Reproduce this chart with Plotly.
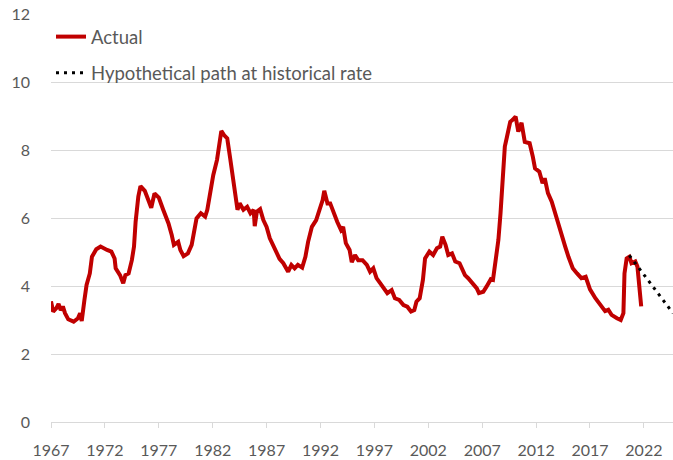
import plotly.graph_objects as go

# values (decimal years)
actual_years = [
    1967.0, 1967.2, 1967.5, 1967.7, 1967.9, 1968.1, 1968.3, 1968.6, 1969.1, 1969.5,
    1969.7, 1969.85, 1970.1, 1970.3, 1970.6, 1970.8, 1971.2, 1971.6, 1972.2, 1972.6,
    1972.9, 1973.0, 1973.4, 1973.7, 1973.9, 1974.2, 1974.5, 1974.7, 1974.85, 1974.95,
    1975.1, 1975.3, 1975.7, 1976.0, 1976.3, 1976.6, 1977.0, 1977.4, 1977.9, 1978.2,
    1978.4, 1978.8, 1979.0, 1979.3, 1979.7, 1980.05, 1980.3, 1980.5, 1980.9, 1981.3,
    1981.5, 1981.75, 1982.05, 1982.4, 1982.6, 1982.8, 1983.05, 1983.35, 1983.6, 1983.85,
    1984.1, 1984.3, 1984.5, 1984.85, 1985.2, 1985.5, 1985.8, 1985.9, 1986.1, 1986.4,
    1986.7, 1987.0, 1987.3, 1987.8, 1988.2, 1988.55, 1989.0, 1989.3, 1989.6, 1989.9,
    1990.3, 1990.6, 1990.85, 1991.2, 1991.6, 1991.95, 1992.2, 1992.35, 1992.65, 1992.9,
    1993.2, 1993.55, 1993.9, 1994.1, 1994.35, 1994.7, 1994.9, 1995.2, 1995.5, 1995.9,
    1996.3, 1996.6, 1996.9, 1997.2, 1997.5, 1997.8, 1998.2, 1998.6, 1998.9, 1999.3,
    1999.7, 2000.05, 2000.4, 2000.7, 2000.9, 2001.2, 2001.5, 2001.7, 2002.1, 2002.45,
    2002.8, 2003.1, 2003.3, 2003.6, 2003.85, 2004.2, 2004.5, 2004.9, 2005.4, 2005.7,
    2006.1, 2006.5, 2006.7, 2007.1, 2007.4, 2007.8, 2008.0, 2008.2, 2008.5, 2008.7,
    2008.9, 2009.1, 2009.3, 2009.6, 2009.8, 2010.1, 2010.35, 2010.65, 2010.95, 2011.4,
    2011.7, 2011.9, 2012.3, 2012.6, 2012.8, 2013.1, 2013.45, 2013.75, 2014.1, 2014.4,
    2014.7, 2015.0, 2015.4, 2015.8, 2016.2, 2016.6, 2017.0, 2017.5, 2017.9, 2018.4,
    2018.7, 2019.0, 2019.5, 2019.85, 2020.1, 2020.2, 2020.4, 2020.65, 2020.85, 2021.2,
    2021.4, 2021.6, 2021.75,
]
actual_vals = [
    3.55, 3.25, 3.35, 3.47, 3.29, 3.4, 3.2, 3.02, 2.95, 3.05,
    3.2, 2.97, 3.59, 4.03, 4.37, 4.86, 5.08, 5.16, 5.06, 5.01,
    4.81, 4.52, 4.32, 4.08, 4.32, 4.37, 4.76, 5.16, 5.89, 6.33,
    6.63, 6.94, 6.8, 6.55, 6.3, 6.72, 6.6, 6.25, 5.84, 5.5,
    5.21, 5.3, 5.06, 4.88, 4.96, 5.21, 5.65, 5.99, 6.14, 6.04,
    6.24, 6.73, 7.26, 7.71, 8.1, 8.56, 8.44, 8.34, 7.8, 7.21,
    6.68, 6.24, 6.43, 6.24, 6.33, 6.14, 6.24, 5.76, 6.19, 6.26,
    5.94, 5.74, 5.4, 5.1, 4.8, 4.67, 4.42, 4.62, 4.52, 4.62,
    4.54, 4.86, 5.3, 5.74, 5.94, 6.28, 6.53, 6.8, 6.43, 6.43,
    6.14, 5.89, 5.65, 5.74, 5.26, 5.06, 4.7, 4.91, 4.76, 4.76,
    4.62, 4.42, 4.52, 4.23, 4.1, 3.98, 3.79, 3.88, 3.64, 3.59,
    3.44, 3.39, 3.25, 3.29, 3.54, 3.64, 4.18, 4.81, 5.01, 4.91,
    5.11, 5.16, 5.45, 5.21, 4.91, 4.96, 4.72, 4.67, 4.32, 4.23,
    4.08, 3.93, 3.79, 3.83, 3.98, 4.2, 4.18, 4.67, 5.35, 6.14,
    7.12, 8.1, 8.39, 8.83, 8.88, 8.98, 8.54, 8.8, 8.24, 8.2,
    7.8, 7.46, 7.36, 7.02, 7.17, 6.73, 6.48, 6.14, 5.74, 5.4,
    5.16, 4.86, 4.52, 4.37, 4.23, 4.27, 3.9, 3.64, 3.49, 3.26,
    3.3, 3.15, 3.05, 3.0, 3.2, 4.37, 4.81, 4.86, 4.67, 4.72,
    4.57, 3.88, 3.4,
]

hyp_years = [2020.65, 2024.7]
hyp_vals = [4.9, 3.2]

tick_years = [1967, 1972, 1977, 1982, 1987, 1992, 1997, 2002, 2007, 2012, 2017, 2022]

RED = "#C00000"
GRID = "#D9D9D9"
TXT = "#595959"
FONT = "Lato, 'Open Sans', sans-serif"

fig = go.Figure()
fig.add_trace(go.Scatter(
    x=actual_years, y=actual_vals, mode="lines", name="Actual", legendgroup="a",
    line=dict(color=RED, width=4),
))
fig.add_trace(go.Scatter(
    x=hyp_years, y=hyp_vals, mode="lines", name="Hypothetical path at historical rate",
    legendgroup="h", line=dict(color="#000000", width=3, dash="3px,5px"),
))

fig.update_layout(
    width=673, height=460,
    paper_bgcolor="white", plot_bgcolor="white",
    margin=dict(l=51, r=0, t=14, b=38),
    font=dict(family=FONT, size=16, color=TXT),
    showlegend=True,
    legend=dict(
        x=0.0, y=0.99, xanchor="left", yanchor="top",
        bgcolor="rgba(0,0,0,0)", font=dict(size=18.5, color=TXT),
        tracegroupgap=9, itemwidth=30,
    ),
    xaxis=dict(
        range=[1967, 2024.7], tickvals=tick_years, ticktext=[str(t) for t in tick_years],
        showgrid=False, zeroline=False, showline=True, linecolor=GRID, linewidth=1,
        ticks="outside", ticklen=5, tickcolor=GRID, tickfont=dict(size=16, color=TXT),
        ticklabelstandoff=9,
    ),
    yaxis=dict(
        range=[0, 12], dtick=2, showgrid=True, gridcolor=GRID, gridwidth=1,
        zeroline=False, showline=False, ticks="", ticklabelstandoff=20,
        tickfont=dict(size=16, color=TXT),
    ),
)

fig.write_html("out.html", config={"displayModeBar": False},
               post_script="document.body.style.margin='0';")
